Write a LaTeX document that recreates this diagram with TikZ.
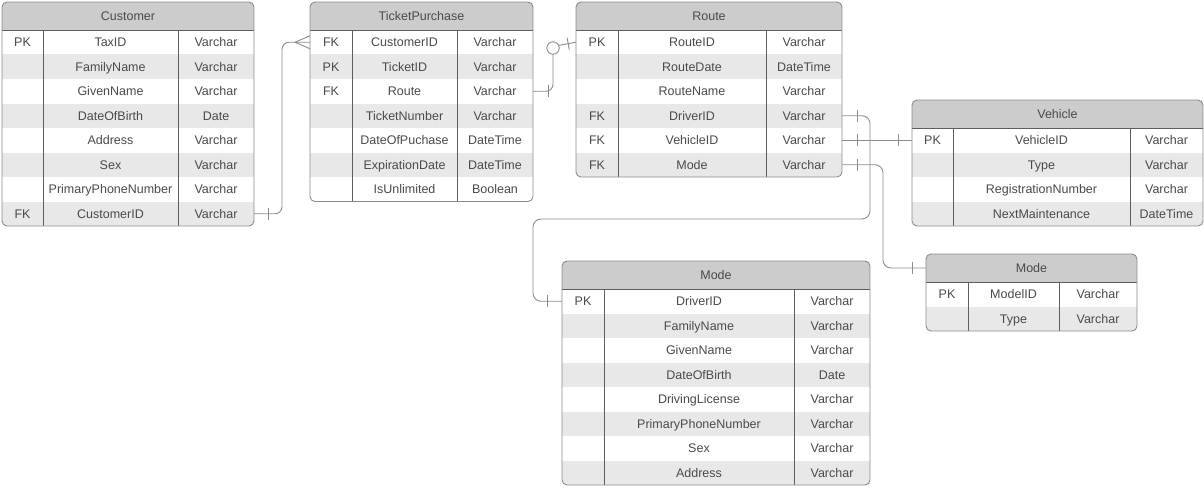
\documentclass[tikz,border=0pt]{standalone}
\usepackage{fontspec}
\setmainfont{Liberation Sans}
\usetikzlibrary{calc}
\definecolor{hdrfill}{HTML}{CCCCCC}
\definecolor{rowfill}{HTML}{E8E8E8}
\definecolor{bordergray}{HTML}{8A8A8A}
\definecolor{divgray}{HTML}{5E5E5E}
\definecolor{textgray}{HTML}{4A4A4A}
\definecolor{conngray}{HTML}{8C8C8C}
\tikzset{
  erdborder/.style={draw=bordergray, line width=0.9pt, rounded corners=5},
  erddiv/.style={draw=divgray, line width=0.7pt},
  cell/.style={font=\fontsize{12.5}{14}\selectfont, text=textgray, inner sep=0pt, text height=9pt, text depth=0pt},
  conn/.style={draw=conngray, line width=0.9pt},
}
% #1 id, #2 x1, #3 top, #4 x2, #5 c1, #6 c2, #7 title, #8 rows count, #9 rows
\newcommand\erdtable[9]{%
  \pgfmathsetmacro\tb{#3+28+#8*24.5}%
  \pgfmathsetmacro\hb{#3+28}%
  \begin{scope}
    \clip[rounded corners=5] (#2,#3) rectangle (#4,\tb);
    \fill[white] (#2,#3) rectangle (#4,\tb);
    \fill[hdrfill] (#2,#3) rectangle (#4,\hb);
    \foreach \kk/\ff/\ty [count=\i] in {#9} {
      \pgfmathsetmacro\ya{\hb+(\i-1)*24.5}
      \pgfmathsetmacro\yb{\ya+24.5}
      \ifodd\i\else\fill[rowfill] (#2,\ya) rectangle (#4,\yb);\fi
    }
  \end{scope}
  \draw[erddiv] (#2,\hb) -- (#4,\hb);
  \draw[erddiv] (#5,\hb) -- (#5,\tb);
  \draw[erddiv] (#6,\hb) -- (#6,\tb);
  \draw[erdborder] (#2,#3) rectangle (#4,\tb);
  \node[cell] (#1-h) at ({(#2+#4)/2},{#3+14}) {#7};
  \coordinate (#1-hL) at (#2,{#3+14});
  \foreach \kk/\ff/\ty [count=\i] in {#9} {
    \pgfmathsetmacro\yc{\hb+(\i-0.5)*24.5}
    \node[cell] (#1-k\i) at ({(#2+#5)/2},\yc) {\kk};
    \node[cell] (#1-f\i) at ({(#5+#6)/2},\yc) {\ff};
    \node[cell] (#1-t\i) at ({(#6+#4)/2},\yc) {\ty};
    \coordinate (#1-L\i) at (#2,\yc);
    \coordinate (#1-R\i) at (#4,\yc);
  }%
}
\begin{document}
\begin{tikzpicture}[x=1pt,y=-1pt]
\useasboundingbox (0,0) rectangle (1204,487);

\erdtable{cust}{2}{2}{254}{43}{178}{Customer}{8}{PK/TaxID/Varchar,/FamilyName/Varchar,/GivenName/Varchar,/DateOfBirth/Date,/Address/Varchar,/Sex/Varchar,/PrimaryPhoneNumber/Varchar,FK/CustomerID/Varchar}

\erdtable{tp}{310}{2}{533}{352}{457}{TicketPurchase}{7}{FK/CustomerID/Varchar,PK/TicketID/Varchar,FK/Route/Varchar,/TicketNumber/Varchar,/DateOfPuchase/DateTime,/ExpirationDate/DateTime,/IsUnlimited/Boolean}

\erdtable{route}{576}{2}{842}{618}{766}{Route}{6}{PK/RouteID/Varchar,/RouteDate/DateTime,/RouteName/Varchar,FK/DriverID/Varchar,FK/VehicleID/Varchar,FK/Mode/Varchar}

\erdtable{veh}{912}{100}{1203}{953}{1130}{Vehicle}{4}{PK/VehicleID/Varchar,/Type/Varchar,/RegistrationNumber/Varchar,/NextMaintenance/DateTime}

\erdtable{modeS}{926}{254}{1137}{968}{1059}{Mode}{2}{PK/ModelID/Varchar,/Type/Varchar}

\erdtable{modeB}{562}{261}{870}{604}{794}{Mode}{8}{PK/DriverID/Varchar,/FamilyName/Varchar,/GivenName/Varchar,/DateOfBirth/Date,/DrivingLicense/Varchar,/PrimaryPhoneNumber/Varchar,/Sex/Varchar,/Address/Varchar}

% Customer -> TicketPurchase (one to many)
\draw[conn, rounded corners=7] (cust-R8) -- ++(28,0) |- (tp-L1);
\draw[conn] ($(cust-R8)+(14,-6)$) -- ++(0,12);
\draw[conn] ($(tp-L1)+(0,-6.5)$) -- ($(tp-L1)+(-15,0)$) -- ($(tp-L1)+(0,6.5)$);

% TicketPurchase -> Route (one to zero-or-one)
\coordinate (o2) at ($(tp-R3)+(20,0)$);
\coordinate (o2) at (o2 |- 0,48);
\draw[conn, rounded corners=7] (tp-R3) -| ($(o2)+(0,6.2)$);
\draw[conn] ($(tp-R3)+(15,-6)$) -- ++(0,12);
\draw[conn] (o2) circle[radius=6.2];
\coordinate (o2e) at ($(o2)+(-25:6.2)$);
\draw[conn] (o2e) -- (route-L1);
\coordinate (m2) at ($(o2e)!0.55!(route-L1)$);
\draw[conn] ($(m2)!6pt!90:(route-L1)$) -- ($(m2)!6pt!-90:(route-L1)$);

% Route DriverID -> Mode (driver)
\coordinate (j1) at ($(route-R4)+(28,0)$);
\coordinate (j1) at (j1 |- 0,219);
\coordinate (j2) at ($(modeB-L1)+(-29,0)$);
\coordinate (j2) at (j2 |- 0,219);
\draw[conn, rounded corners=8] (route-R4) -| (j1) -- (j2) |- (modeB-L1);
\draw[conn] ($(route-R4)+(15,-6)$) -- ++(0,12);
\draw[conn] ($(modeB-L1)+(-15,-6)$) -- ++(0,12);

% Route VehicleID -> Vehicle
\draw[conn] (route-R5) -- (veh-L1);
\draw[conn] ($(route-R5)+(15,-6)$) -- ++(0,12);
\draw[conn] ($(veh-L1)+(-14,-6)$) -- ++(0,12);

% Route Mode -> Mode (small)
\draw[conn, rounded corners=8] (route-R6) -| ($(modeS-hL)+(-43,0)$) -- (modeS-hL);
\draw[conn] ($(route-R6)+(15,-6)$) -- ++(0,12);
\draw[conn] ($(modeS-hL)+(-14,-6)$) -- ++(0,12);
\end{tikzpicture}
\end{document}
